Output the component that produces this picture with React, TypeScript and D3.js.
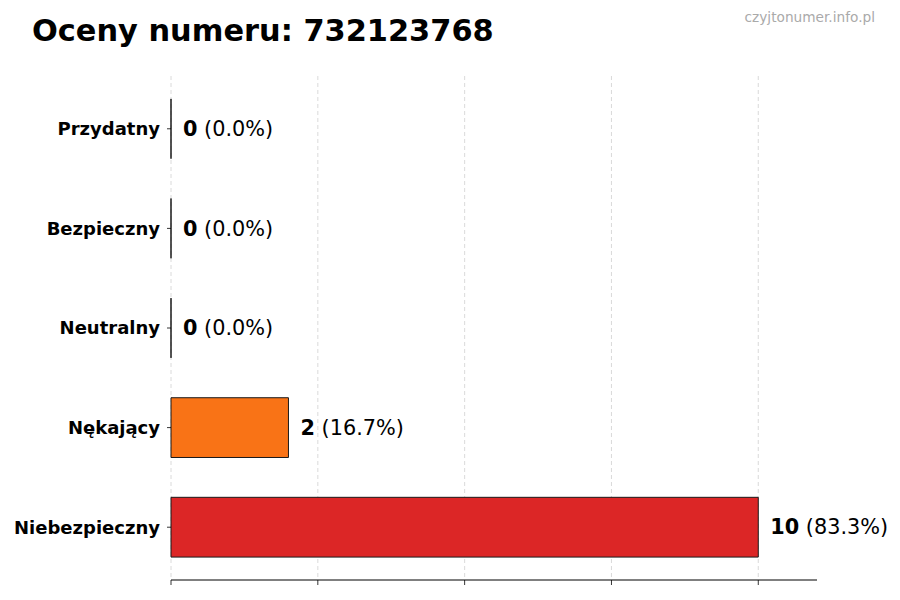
import { useEffect, useRef } from "react";
import * as d3 from "d3";

const categories = ["Niebezpieczny", "Nękający", "Neutralny", "Bezpieczny", "Przydatny"];
const counts = [10, 2, 0, 0, 0];
const percents = ["83.3%", "16.7%", "0.0%", "0.0%", "0.0%"];
const barColors = ["#dc2626", "#f97316", "#9ca3af", "#22c55e", "#3b82f6"];
const xTicks = [0, 2.5, 5, 7.5, 10];

const title = "Oceny numeru: 732123768";
const watermark = "czyjtonumer.info.pl";

export default function App() {
  const svgRef = useRef<SVGSVGElement | null>(null);

  useEffect(() => {
    const width = 900;
    const height = 600;
    const plot = { left: 171, right: 817, top: 76, bottom: 580 };
    const barHeight = 0.6;
    const font = "'DejaVu Sans', sans-serif";

    const x = d3.scaleLinear().domain([0, 11]).range([plot.left, plot.right]);
    const y = d3
      .scaleLinear()
      .domain([-0.53, categories.length - 1 + 0.53])
      .range([plot.bottom, plot.top]);
    const bandPx = y(0) - y(barHeight);

    const svg = d3
      .select(svgRef.current)
      .attr("width", width)
      .attr("height", height)
      .html("");

    svg.append("rect").attr("width", width).attr("height", height).attr("fill", "white");

    // title and watermark
    svg
      .append("text")
      .attr("x", 32)
      .attr("y", 41)
      .attr("font-family", font)
      .attr("font-weight", "bold")
      .attr("font-size", 30.4)
      .text(title);

    svg
      .append("text")
      .attr("x", 875)
      .attr("y", 22)
      .attr("text-anchor", "end")
      .attr("font-family", font)
      .attr("font-size", 13.7)
      .attr("fill", "#aaaaaa")
      .text(watermark);

    // grid
    svg
      .append("g")
      .selectAll("line")
      .data(xTicks)
      .join("line")
      .attr("x1", (d) => x(d))
      .attr("x2", (d) => x(d))
      .attr("y1", plot.top)
      .attr("y2", plot.bottom)
      .attr("stroke", "#d0d0d0")
      .attr("stroke-width", 0.8)
      .attr("stroke-dasharray", "4,3");

    // bars (paths so zero-width bars still show their edge)
    svg
      .append("g")
      .selectAll("path")
      .data(counts)
      .join("path")
      .attr("d", (d, i) => {
        const y0 = y(i) - bandPx / 2;
        return `M${x(0)},${y0}H${x(d)}V${y0 + bandPx}H${x(0)}Z`;
      })
      .attr("fill", (_, i) => barColors[i])
      .attr("stroke", "#1a1a1a")
      .attr("stroke-width", 1);

    // value labels
    const labels = svg
      .append("g")
      .selectAll("text")
      .data(counts)
      .join("text")
      .attr("x", (d) => x(d) + 12)
      .attr("y", (_, i) => y(i))
      .attr("dy", "0.35em")
      .attr("font-family", font)
      .attr("font-size", 20.8);
    labels
      .append("tspan")
      .attr("font-weight", "bold")
      .text((d) => `${d}`);
    labels.append("tspan").text((_, i) => ` (${percents[i]})`);

    // y axis (ticks + labels, no spine)
    const yAxis = svg.append("g");
    yAxis
      .selectAll("line")
      .data(categories)
      .join("line")
      .attr("x1", plot.left - 4)
      .attr("x2", plot.left)
      .attr("y1", (_, i) => y(i))
      .attr("y2", (_, i) => y(i))
      .attr("stroke", "black")
      .attr("stroke-width", 0.8);
    yAxis
      .selectAll("text")
      .data(categories)
      .join("text")
      .attr("x", plot.left - 11)
      .attr("y", (_, i) => y(i))
      .attr("dy", "0.35em")
      .attr("text-anchor", "end")
      .attr("font-family", font)
      .attr("font-weight", "bold")
      .attr("font-size", 18)
      .text((d) => d);

    // x axis: spine and ticks without labels
    const xAxis = svg.append("g").attr("transform", `translate(0,${plot.bottom})`);
    xAxis
      .append("line")
      .attr("x1", plot.left)
      .attr("x2", plot.right)
      .attr("stroke", "black")
      .attr("stroke-width", 1);
    xAxis
      .selectAll("line.tick")
      .data(xTicks)
      .join("line")
      .attr("class", "tick")
      .attr("x1", (d) => x(d))
      .attr("x2", (d) => x(d))
      .attr("y1", 0)
      .attr("y2", 5)
      .attr("stroke", "black")
      .attr("stroke-width", 0.8);
  }, []);

  return (
    <div style={{ margin: -8 }}>
      <svg ref={svgRef}></svg>
    </div>
  );
}
